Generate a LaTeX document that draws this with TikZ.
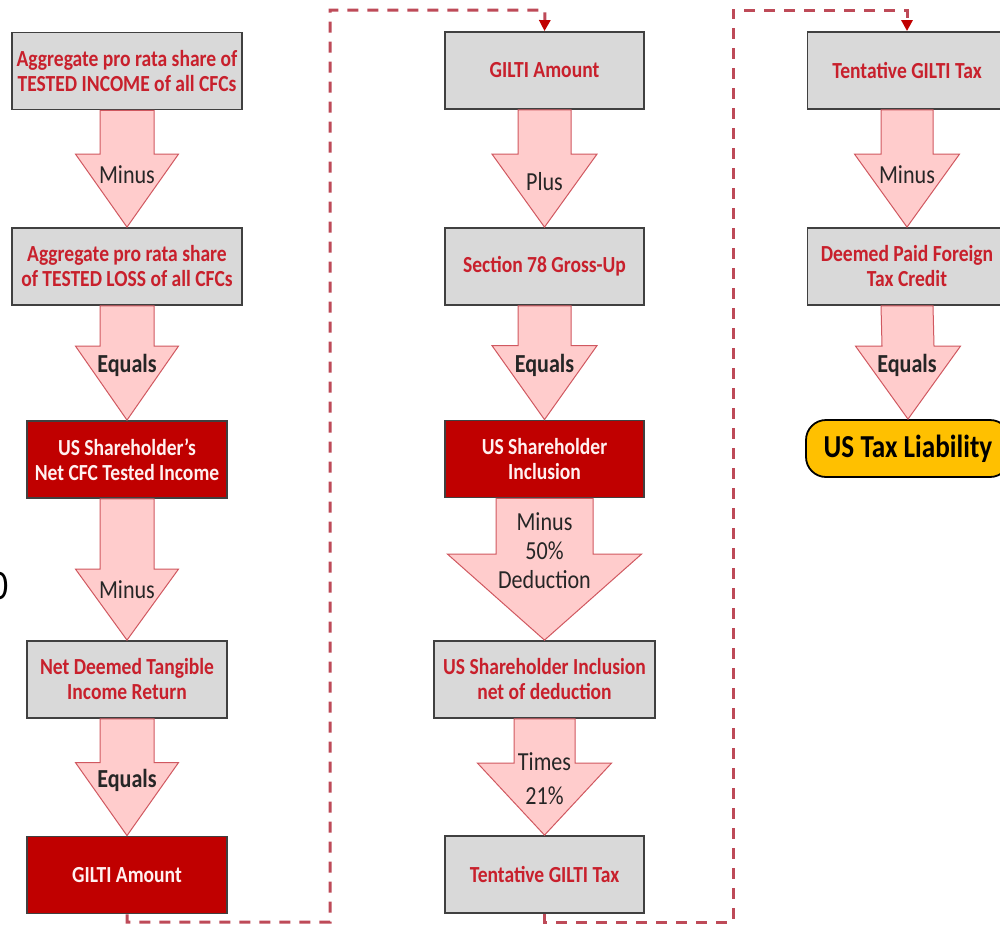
\documentclass[tikz,border=0pt]{standalone}
\usepackage{fontspec}
\setmainfont{Carlito}[FakeStretch=0.85]
\usetikzlibrary{calc,arrows.meta}
\definecolor{boxgray}{HTML}{D9D9D9}
\definecolor{txtred}{HTML}{C8202C}
\definecolor{darkred}{HTML}{C00000}
\definecolor{arrfill}{HTML}{FFCCCC}
\definecolor{arrline}{HTML}{D05860}
\definecolor{dashred}{HTML}{BE4A58}
\definecolor{gold}{HTML}{FFC000}
\newcommand\blockarr[5]{%
  \draw[arrstyle] ($(#1.south)+(-#3,0)$) -- ($(#2.north)+(-#3,-#5)$) -- ($(#2.north)+(-#4,-#5)$) -- (#2.north) -- ($(#2.north)+(#4,-#5)$) -- ($(#2.north)+(#3,-#5)$) -- ($(#1.south)+(#3,0)$) -- cycle;}
\begin{document}
\begin{tikzpicture}[x=1pt,y=-1pt,
  graybox/.style={draw=black!75,line width=1.8pt,fill=boxgray,text=txtred,font=\bfseries\fontsize{23}{25}\selectfont,align=center,inner sep=0pt,minimum height=77pt},
  redbox/.style={graybox,fill=darkred,text=white!94!red},
  goldbox/.style={draw=black,line width=1.8pt,fill=gold,rounded corners=20pt,font=\bfseries\fontsize{32}{34}\selectfont,inner sep=0pt,minimum height=57pt},
  arrstyle/.style={fill=arrfill,draw=arrline,line width=1pt},
  lbl/.style={font=\fontsize{26}{29}\selectfont,text=black!85,align=center,inner sep=0pt},
  lblb/.style={lbl,font=\bfseries\fontsize{26}{29}\selectfont},
  dashconn/.style={draw=dashred,line width=3pt,dash pattern=on 11pt off 9pt},
  tipst/.style={-{Triangle[length=11pt,width=11pt,fill=darkred,color=darkred]}}
]
\useasboundingbox (0,0) rectangle (1000,926);
\fill[white] (0,0) rectangle (1000,926);

% left column
\node[graybox,minimum width=230pt] (L1) at (127,71) {Aggregate pro rata share of\\TESTED INCOME of all CFCs};
\node[graybox,minimum width=230pt] (L2) at (127,266.5) {Aggregate pro rata share\\of TESTED LOSS of all CFCs};
\node[redbox,minimum width=200pt] (L3) at (127,459.5) {US Shareholder’s\\Net CFC Tested Income};
\node[graybox,minimum width=200pt] (L4) at (127,679.5) {Net Deemed Tangible\\Income Return};
\node[redbox,minimum width=200pt] (L5) at (127,875) {GILTI Amount};

% middle column
\node[graybox,minimum width=199pt] (M1) at (544.5,70.5) {GILTI Amount};
\node[graybox,minimum width=199pt] (M2) at (544.5,266.5) {Section 78 Gross-Up};
\node[redbox,minimum width=199pt] (M3) at (544.5,459) {US Shareholder\\Inclusion};
\node[graybox,minimum width=221pt] (M4) at (544.5,679.5) {US Shareholder Inclusion\\net of deduction};
\node[graybox,minimum width=199pt] (M5) at (544.5,874.5) {Tentative GILTI Tax};

% right column
\node[graybox,minimum width=199pt] (R1) at (907,70.5) {Tentative GILTI Tax};
\node[graybox,minimum width=199pt] (R2) at (907,266.5) {Deemed Paid Foreign\\Tax Credit};
\node[goldbox,minimum width=204pt] (R3) at (908,448.5) {US Tax Liability};

% block arrows
\blockarr{L1}{L2}{27}{51.5}{73}
\blockarr{L2}{L3}{27}{51.5}{74}
\blockarr{L3}{L4}{27}{51.5}{71}
\blockarr{L4}{L5}{27}{51.5}{73}
\blockarr{M1}{M2}{26.5}{52.5}{73}
\blockarr{M2}{M3}{26.5}{52.5}{74}
\blockarr{M3}{M4}{48.5}{97}{86}
\blockarr{M4}{M5}{30.5}{67}{72}
\blockarr{R1}{R2}{26}{52.5}{73}
\blockarr{R2}{R3}{26}{52.5}{73}

% arrow labels
\node[lbl] (a1) at (127,175) {Minus};
\node[lblb] (a2) at (127,365) {Equals};
\node[lbl] (a3) at (127,590) {Minus};
\node[lblb] (a4) at (127,780) {Equals};
\node[lbl] (b1) at (544.5,182) {Plus};
\node[lblb] (b2) at (544.5,365) {Equals};
\node[lbl] (b3) at (544.5,551) {Minus\\50\%\\Deduction};
\node[lbl,font=\fontsize{26}{34}\selectfont] (b4) at (544.5,779) {Times\\21\%};
\node[lbl] (c1) at (907,175) {Minus};
\node[lblb] (c2) at (907,365) {Equals};

% fragment at left edge
\node[font=\fontsize{42}{42}\selectfont,anchor=east,inner sep=0pt,text=black] (frag) at (9,586) {0};

% dashed connectors
\coordinate (d1) at (330,922);
\coordinate (d2) at (330,10);
\coordinate (d3) at (545,10);
\draw[dashconn,tipst] (L5.south) |- (d1) -- (d2) -- (d3) -- (M1.north);
\coordinate (e1) at (733,922);
\coordinate (e2) at (733,10);
\coordinate (e3) at (907,10);
\draw[dashconn,tipst] (M5.south) |- (e1) -- (e2) -- (e3) -- (R1.north);
\end{tikzpicture}
\end{document}
